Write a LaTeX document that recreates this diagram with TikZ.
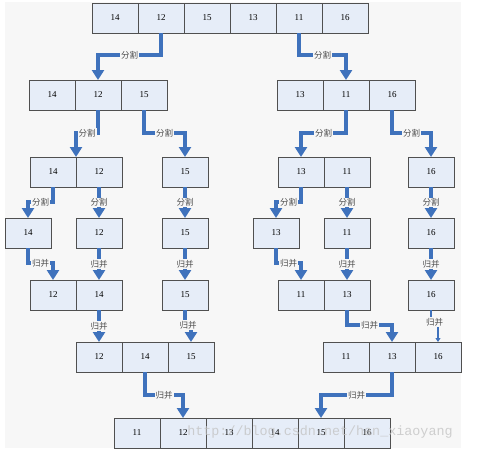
\documentclass[tikz,border=0pt]{standalone}
\usepackage{fontspec}
\setmainfont{Liberation Serif}
\newfontfamily\cjk{Noto Sans CJK SC}
\newfontfamily\marca{Liberation Mono}
\usepackage{tikz}
\usetikzlibrary{arrows.meta, positioning}
\definecolor{fondo}{HTML}{F7F7F7}
\definecolor{celda}{HTML}{E6EDF8}
\definecolor{bordeCelda}{HTML}{505050}
\definecolor{azulFlecha}{HTML}{3F72BC}
\definecolor{grisMarca}{HTML}{C4C4C4}

\begin{document}
\begin{tikzpicture}[x=1pt, y=-1pt,
        cell/.style={draw=bordeCelda, fill=celda, line width=0.9pt, minimum width=46pt,
            minimum height=30pt, inner sep=0pt, outer sep=0pt, font=\fontsize{9}{10}\selectfont},
        flow/.style={draw=azulFlecha, line width=3.5pt, -{Triangle[width=12pt,length=10pt]}},
        flowthin/.style={draw=azulFlecha, line width=1.2pt, -{Triangle[width=5pt,length=4pt]}},
        lbl/.style={fill=fondo, inner sep=1pt, text=black!70, font=\cjk\fontsize{8.5}{9}\selectfont}
    ]
        \useasboundingbox (0,0) rectangle (500,455);
        \fill[fondo] (5,2) rectangle (461,448);

        % original array
        \node[cell, anchor=north west] (a1) at (92,3) {14};
        \node[cell, right=0pt of a1] (a2) {12};
        \node[cell, right=0pt of a2] (a3) {15};
        \node[cell, right=0pt of a3] (a4) {13};
        \node[cell, right=0pt of a4] (a5) {11};
        \node[cell, right=0pt of a5] (a6) {16};

        % first split
        \node[cell, anchor=north west] (bl1) at (29,80) {14};
        \node[cell, right=0pt of bl1] (bl2) {12};
        \node[cell, right=0pt of bl2] (bl3) {15};
        \node[cell, anchor=north west] (br1) at (277,80) {13};
        \node[cell, right=0pt of br1] (br2) {11};
        \node[cell, right=0pt of br2] (br3) {16};

        % second split
        \node[cell, anchor=north west] (cl1) at (30,157) {14};
        \node[cell, right=0pt of cl1] (cl2) {12};
        \node[cell, anchor=north west] (cl3) at (162,157) {15};
        \node[cell, anchor=north west] (cr1) at (278,157) {13};
        \node[cell, right=0pt of cr1] (cr2) {11};
        \node[cell, anchor=north west] (cr3) at (408,157) {16};

        % single elements
        \node[cell, anchor=north west] (d1) at (5,218) {14};
        \node[cell, anchor=north west] (d2) at (76,218) {12};
        \node[cell, anchor=north west] (d3) at (162,218) {15};
        \node[cell, anchor=north west] (d4) at (253,218) {13};
        \node[cell, anchor=north west] (d5) at (324,218) {11};
        \node[cell, anchor=north west] (d6) at (408,218) {16};

        % first merge
        \node[cell, anchor=north west] (el1) at (30,280) {12};
        \node[cell, right=0pt of el1] (el2) {14};
        \node[cell, anchor=north west] (el3) at (162,280) {15};
        \node[cell, anchor=north west] (er1) at (278,280) {11};
        \node[cell, right=0pt of er1] (er2) {13};
        \node[cell, anchor=north west] (er3) at (408,280) {16};

        % second merge
        \node[cell, anchor=north west] (fl1) at (76,342) {12};
        \node[cell, right=0pt of fl1] (fl2) {14};
        \node[cell, right=0pt of fl2] (fl3) {15};
        \node[cell, anchor=north west] (fr1) at (323,342) {11};
        \node[cell, right=0pt of fr1] (fr2) {13};
        \node[cell, right=0pt of fr2] (fr3) {16};

        % sorted array
        \node[cell, anchor=north west] (g1) at (114,418) {11};
        \node[cell, right=0pt of g1] (g2) {12};
        \node[cell, right=0pt of g2] (g3) {13};
        \node[cell, right=0pt of g3] (g4) {14};
        \node[cell, right=0pt of g4] (g5) {15};
        \node[cell, right=0pt of g5] (g6) {16};

        % splitting
        \draw[flow] (a2.south) -- ++(0,22) -| node[lbl, pos=0.25]{分割} (bl2.north);
        \draw[flow] (a5.south) -- ++(0,22) -| node[lbl, pos=0.25]{分割} (br2.north);
        \draw[flow] (bl2.south) -- ++(0,23) -| node[lbl, pos=0.25]{分割} (cl1.north east);
        \draw[flow] (bl3.south) -- ++(0,23) -| node[lbl, pos=0.25]{分割} (cl3.north);
        \draw[flow] (br2.south) -- ++(0,23) -| node[lbl, pos=0.25]{分割} (cr1.north);
        \draw[flow] (br3.south) -- ++(0,23) -| node[lbl, pos=0.25]{分割} (cr3.north);
        \draw[flow] (cl1.south) -- ++(0,15) -| node[lbl, pos=0.25]{分割} (d1.north);
        \draw[flow] (cl2.south) -- node[lbl]{分割} (d2.north);
        \draw[flow] (cl3.south) -- node[lbl]{分割} (d3.north);
        \draw[flow] (cr1.south) -- ++(0,15) -| node[lbl, pos=0.25]{分割} (d4.north);
        \draw[flow] (cr2.south) -- node[lbl]{分割} (d5.north);
        \draw[flow] (cr3.south) -- node[lbl]{分割} (d6.north);

        % merging
        \draw[flow] (d1.south) -- ++(0,15) -| node[lbl, pos=0.25]{归并} (el1.north);
        \draw[flow] (d2.south) -- node[lbl]{归并} (el2.north);
        \draw[flow] (d3.south) -- node[lbl]{归并} (el3.north);
        \draw[flow] (d4.south) -- ++(0,15) -| node[lbl, pos=0.25]{归并} (er1.north);
        \draw[flow] (d5.south) -- node[lbl]{归并} (er2.north);
        \draw[flow] (d6.south) -- node[lbl]{归并} (er3.north);
        \draw[flow] (el2.south) -- node[lbl]{归并} (fl1.north);
        \draw[flow] (el3.south) -- ++(0,15) -| node[lbl, pos=0.25]{归并} (fl3.north);
        \draw[flow] (er2.south) -- ++(0,15) -| node[lbl, pos=0.25]{归并} (fr2.north);
        \draw[flowthin] (er3.south) -- ++(0,12) -| node[lbl, pos=0.25]{归并} (fr3.north);
        \draw[flow] (fl2.south) -- ++(0,23) -| node[lbl, pos=0.25]{归并} (g2.north);
        \draw[flow] (fr2.south) -- ++(0,23) -| node[lbl, pos=0.25]{归并} (g5.north);

        \node[text=grisMarca, opacity=0.8, font=\marca\fontsize{13.4}{14}\selectfont] (marca) at (320,432) {http://blog.csdn.net/han\_xiaoyang};
    \end{tikzpicture}
\end{document}
